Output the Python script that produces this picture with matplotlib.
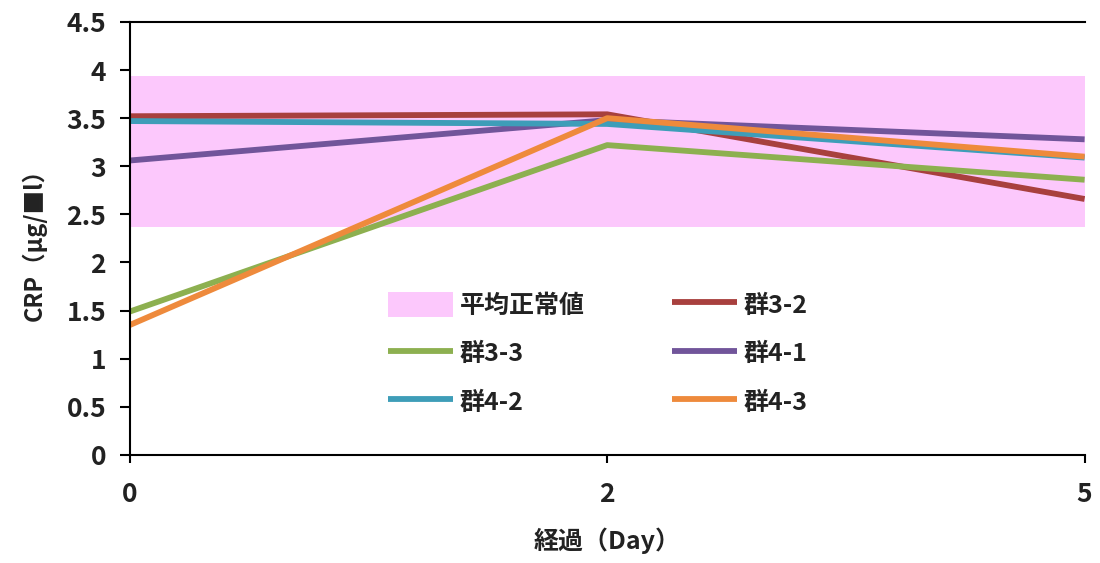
import matplotlib
matplotlib.use('Agg')
import matplotlib.pyplot as plt
from matplotlib.patches import Patch

plt.rcParams['font.family'] = ['Noto Sans CJK JP', 'DejaVu Sans']

# 経過日数（カテゴリ軸）
days = ['0', '2', '5']

# 平均正常値の範囲
normal_low = 2.37
normal_high = 3.94

# 各群の CRP 値
grp_3_2 = [3.52, 3.54, 2.66]
grp_3_3 = [1.49, 3.22, 2.86]
grp_4_1 = [3.06, 3.48, 3.28]
grp_4_2 = [3.47, 3.44, 3.09]
grp_4_3 = [1.35, 3.50, 3.10]

names = ['群3-2', '群3-3', '群4-1', '群4-2', '群4-3']
colors = ['#A8403E', '#8DB050', '#71559A', '#3E9DB8', '#EE8A3C']
series = [grp_3_2, grp_3_3, grp_4_1, grp_4_2, grp_4_3]

fig = plt.figure(figsize=(11, 5.63), dpi=100)
ax = fig.add_axes([0.118, 0.192, 0.868, 0.769])

band = ax.axhspan(normal_low, normal_high, color='#FCC8FC', lw=0, zorder=0)

x = list(range(len(days)))
lines = []
for vals, name, c in zip(series, names, colors):
    ln, = ax.plot(x, vals, color=c, lw=4.2, label=name, solid_capstyle='butt', zorder=2)
    lines.append(ln)

ax.set_xlim(0, 2)
ax.set_ylim(0, 4.5)
ax.set_xticks(x)
ax.set_xticklabels(days)
ax.set_yticks([0, 0.5, 1, 1.5, 2, 2.5, 3, 3.5, 4, 4.5])
ax.set_yticklabels(['0', '0.5', '1', '1.5', '2', '2.5', '3', '3.5', '4', '4.5'])

ax.spines['right'].set_visible(False)
for s in ['left', 'bottom', 'top']:
    ax.spines[s].set_linewidth(1.5)
ax.tick_params(axis='y', direction='out', length=7, width=1.5, pad=10, labelsize=19)
ax.tick_params(axis='x', direction='out', length=6, width=1.5, pad=13, labelsize=19)
for lab in ax.get_xticklabels() + ax.get_yticklabels():
    lab.set_fontweight('bold')
    lab.set_color('#222222')

ax.set_xlabel('経過（Day）', fontsize=18, fontweight='bold', labelpad=14, color='#222222')
ax.set_ylabel('CRP（μg/■l）', fontsize=17, fontweight='bold', labelpad=14, color='#222222')

# 凡例：2列、行順に並ぶよう並べ替え
handles = [Patch(facecolor='#FCC8FC', edgecolor='none'), lines[1], lines[3],
           lines[0], lines[2], lines[4]]
labels = ['平均正常値', names[1], names[3], names[0], names[2], names[4]]
leg = ax.legend(handles, labels, ncol=2, loc='center', bbox_to_anchor=(0.49, 0.235),
                frameon=False, handlelength=2.6, handleheight=1.2, handletextpad=0.25,
                columnspacing=3.5, labelspacing=0.88, prop={'size': 18, 'weight': 'bold'})
for t in leg.get_texts():
    t.set_color('#222222')

fig.savefig('out.png', dpi=100)
